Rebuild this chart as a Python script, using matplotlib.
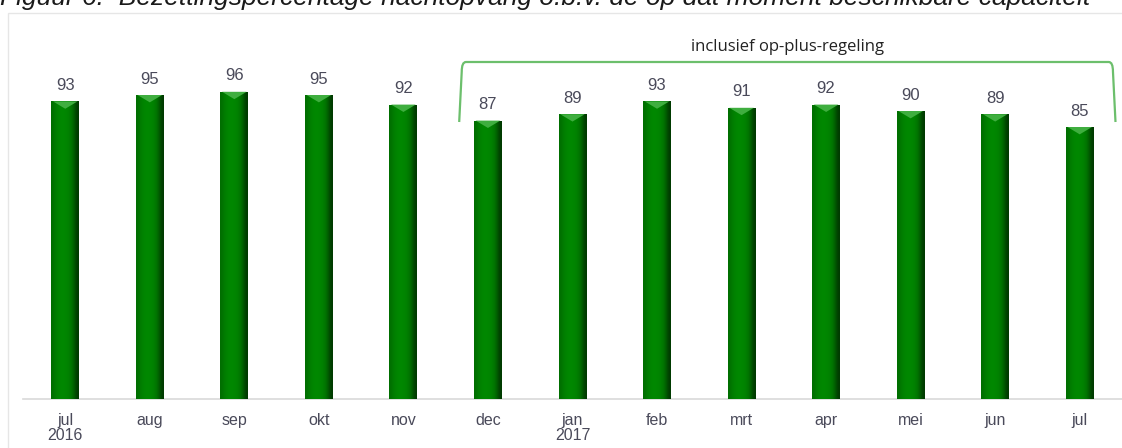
import numpy as np
import matplotlib
matplotlib.use("Agg")
import matplotlib.pyplot as plt
from matplotlib.path import Path
from matplotlib.patches import PathPatch, Polygon, Rectangle

months = ["jul\n2016", "aug", "sep", "okt", "nov", "dec", "jan\n2017",
          "feb", "mrt", "apr", "mei", "jun", "jul"]
values = [93, 95, 96, 95, 92, 87, 89, 93, 91, 92, 90, 89, 85]
bracket_label = "inclusief op-plus-regeling"
title = "Figuur 6:  Bezettingspercentage nachtopvang o.b.v. de op dat moment beschikbare capaciteit"

text_col = "#4a4a5a"
plt.rcParams["font.family"] = ["Liberation Sans", "DejaVu Sans"]

W, H = 1122, 448
fig = plt.figure(figsize=(W / 100, H / 100), dpi=100)

# chart frame (light border)
frame = Rectangle((8 / W, -0.1), 1.2, (H - 13) / H + 0.1, transform=fig.transFigure,
                  fill=False, edgecolor="#e6e6e6", linewidth=1.0)
fig.patches.append(frame)

# title, cut off at top like in the source
fig.text(0.0, 1.0 - 5 / H, title, ha="left", va="baseline", fontsize=19,
         style="italic", color="#1a1a1a")

ax = fig.add_axes([23 / W, 49 / H, (W - 23) / W, 339 / H])
x = np.arange(len(values))
ymax = 339 / 3.2
ax.set_xlim(-0.5, len(values) - 0.5)
ax.set_ylim(0, ymax)

bw = 0.33
bars = ax.bar(x, values, width=bw, color="#008000", zorder=2)

# horizontal gradient for the cylinder look
grad = np.array([0.55, 0.7, 0.8, 0.85, 0.85, 0.82, 0.75, 0.6, 0.35, 0.15])
cmap = matplotlib.colors.LinearSegmentedColormap.from_list(
    "g", ["#002400", "#006a00", "#009400"])
for b, v in zip(bars, values):
    x0 = b.get_x()
    im = ax.imshow(grad[None, :], cmap=cmap, vmin=0, vmax=1, aspect="auto",
                   extent=(x0, x0 + bw, 0, v), zorder=3, interpolation="bicubic")
    im.set_clip_path(b)
    # light cap on top
    cap = Polygon([(x0 + 0.02, v), (x0 + bw - 0.02, v),
                   (x0 + bw * 0.5, v - 2.3)], closed=True,
                  facecolor="#3fae3f", edgecolor="none", zorder=4)
    ax.add_patch(cap)
    ax.text(b.get_x() + bw / 2, v + 2.6, str(v), ha="center", va="bottom",
            fontsize=12, color=text_col)

ax.set_xticks(x)
ax.set_xticklabels(months, fontsize=11.5, color=text_col, linespacing=1.05)
ax.tick_params(axis="x", length=0, pad=10)
ax.set_yticks([])
for s in ["top", "right", "left"]:
    ax.spines[s].set_visible(False)
ax.spines["bottom"].set_color("#d9d9d9")
ax.spines["bottom"].set_linewidth(1.2)

# bracket over the op-plus months
def px2x(px):
    return (px - 23) / 84.5 - 0.5

def py2y(py):
    return (399 - py) / 3.2

xl, xr = px2x(459), px2x(1115)
yb, yt = py2y(122), py2y(62)
r = 0.08
verts = [(xl, yb), (xl + 0.03, yt - 3), (xl + 0.03, yt), (xl + r, yt),
         (xr - r, yt), (xr - 0.03, yt), (xr - 0.03, yt - 3), (xr, yb)]
codes = [Path.MOVETO, Path.LINETO, Path.CURVE3, Path.CURVE3,
         Path.LINETO, Path.CURVE3, Path.CURVE3, Path.LINETO]
ax.add_patch(PathPatch(Path(verts, codes), fill=False, edgecolor="#6cbf6c",
                       linewidth=1.6, clip_on=False, zorder=5))
ax.text(px2x(787), py2y(47), bracket_label, ha="center", va="center",
        fontsize=12, family=["Open Sans", "DejaVu Sans"], color="#222222",
        clip_on=False)

fig.savefig("out.png", dpi=100)
